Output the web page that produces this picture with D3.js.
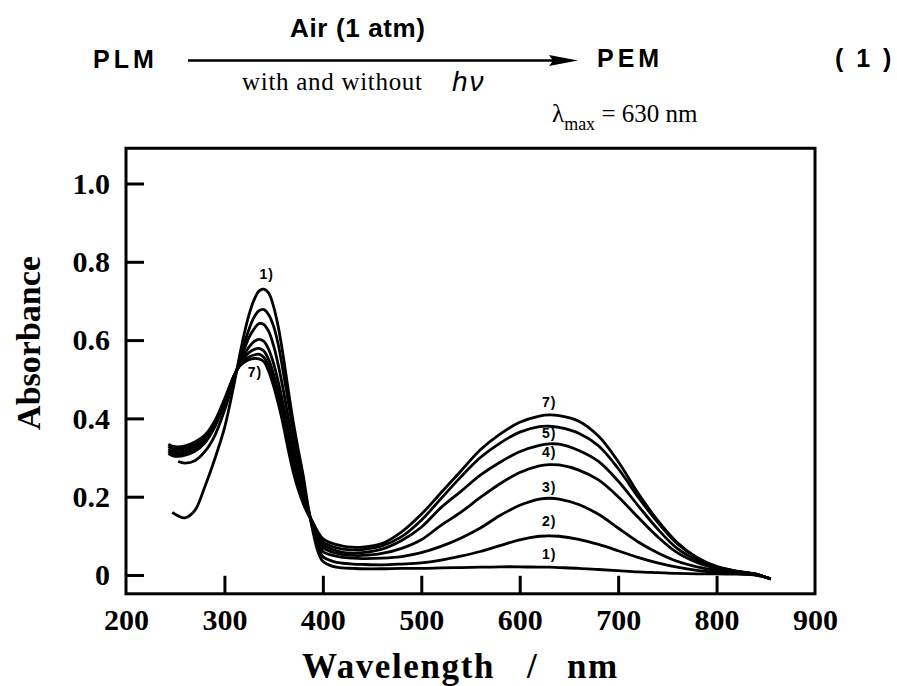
<!DOCTYPE html>
<html><head><meta charset="utf-8">
<script src="https://cdn.jsdelivr.net/npm/d3@7"></script>
<style>
html,body{margin:0;padding:0;background:#fff;}
svg{display:block;}
</style></head>
<body>
<svg id="chart" width="897" height="686"></svg>
<script>
// ---- data ----
const wavelengths = [243,247,253,260,270,280,290,300,310,315,320,325,330,335,340,345,350,355,360,365,370,375,380,385,390,395,400,410,420,430,440,460,480,500,520,540,560,580,600,620,630,640,660,680,700,720,740,760,780,800,820,840,855];
const curve1 = [null,0.160,0.151,0.146,0.165,0.225,0.295,0.375,0.490,0.555, 0.615,0.665,0.702,0.725,0.730,0.720,0.685,0.630,0.555,0.470, 0.390,0.320,0.255,0.175,0.110,0.060,0.035,0.022,0.018,0.017, 0.016,0.016,0.017,0.017,0.018,0.019,0.020,0.021,0.021,0.020, 0.020,0.019,0.017,0.014,0.011,0.008,0.006,0.004,0.003,0.003, 0.002,0.000,-0.010];
const curve2 = [null,null,0.290,0.286,0.292,0.315,0.355,0.420,0.500,0.545, 0.590,0.628,0.658,0.675,0.678,0.665,0.635,0.585,0.515,0.440, 0.365,0.298,0.235,0.172,0.117,0.075,0.047,0.035,0.030,0.028, 0.027,0.026,0.028,0.031,0.038,0.048,0.060,0.075,0.090,0.099, 0.100,0.099,0.091,0.078,0.062,0.045,0.031,0.020,0.012,0.007, 0.004,0.000,-0.010];
const curve3 = [0.310,0.305,0.303,0.306,0.316,0.337,0.377,0.437,0.507,0.540, 0.575,0.607,0.628,0.642,0.640,0.622,0.585,0.533,0.470,0.400, 0.332,0.270,0.217,0.167,0.122,0.085,0.060,0.050,0.045,0.043, 0.042,0.043,0.047,0.057,0.073,0.094,0.120,0.152,0.178,0.194, 0.196,0.194,0.180,0.155,0.120,0.085,0.057,0.035,0.021,0.012, 0.006,0.001,-0.010];
const curve4 = [0.316,0.311,0.309,0.312,0.322,0.342,0.381,0.440,0.508,0.537, 0.563,0.582,0.596,0.602,0.597,0.576,0.540,0.490,0.433,0.368, 0.305,0.250,0.203,0.163,0.127,0.092,0.070,0.058,0.052,0.050, 0.050,0.055,0.068,0.090,0.127,0.160,0.198,0.233,0.262,0.279, 0.282,0.281,0.268,0.243,0.200,0.148,0.098,0.057,0.032,0.017, 0.008,0.002,-0.010];
const curve5 = [0.322,0.317,0.315,0.318,0.328,0.347,0.385,0.443,0.509,0.535, 0.555,0.568,0.576,0.579,0.572,0.550,0.512,0.465,0.410,0.348, 0.288,0.236,0.195,0.160,0.130,0.098,0.078,0.065,0.058,0.056, 0.057,0.066,0.088,0.122,0.172,0.213,0.255,0.288,0.315,0.331, 0.335,0.334,0.318,0.290,0.240,0.178,0.118,0.068,0.038,0.019, 0.009,0.002,-0.010];
const curve6 = [0.328,0.323,0.321,0.324,0.334,0.352,0.389,0.446,0.510,0.533, 0.548,0.557,0.562,0.564,0.556,0.533,0.495,0.448,0.393,0.332, 0.274,0.226,0.188,0.158,0.133,0.104,0.085,0.072,0.066,0.064, 0.065,0.074,0.098,0.140,0.195,0.250,0.300,0.337,0.365,0.379, 0.380,0.377,0.362,0.330,0.272,0.200,0.135,0.080,0.044,0.021, 0.010,0.002,-0.010];
const curve7 = [0.334,0.329,0.327,0.330,0.340,0.357,0.393,0.449,0.511,0.532, 0.543,0.550,0.553,0.552,0.545,0.520,0.482,0.435,0.380,0.318, 0.262,0.218,0.183,0.155,0.133,0.110,0.093,0.080,0.074,0.071, 0.071,0.080,0.110,0.155,0.210,0.265,0.320,0.360,0.390,0.406, 0.409,0.407,0.393,0.355,0.290,0.210,0.140,0.083,0.045,0.022, 0.010,0.002,-0.010];
const seriesList = [curve1,curve2,curve3,curve4,curve5,curve6,curve7];

const xTicks = [200,300,400,500,600,700,800,900];
const yTicks = [0,0.2,0.4,0.6,0.8,1.0];

// curve labels: [text, wavelength, absorbance]
const uvLabels = [["1)",343,0.755],["7)",331,0.505]];
const visLabels = [["7)",630,0.428],["5)",630,0.350],["4)",630,0.302],["3)",630,0.213],["2)",630,0.125],["1)",630,0.042]];

// ---- drawing ----
const svg = d3.select("#chart");
const x = d3.scaleLinear().domain([200,900]).range([126,815]);
const y = d3.scaleLinear().domain([0,1]).range([575,183.5]);
const yTop = 1.09, yBot = -0.048;

// header (reaction scheme)
const hdr = svg.append("g");
hdr.append("text").attr("x",290).attr("y",37).attr("font-family","Liberation Sans, Arial, sans-serif")
  .attr("font-weight","bold").attr("font-size",26).attr("textLength",135).attr("lengthAdjust","spacing")
  .style("white-space","pre").text("Air (1 atm)");
hdr.append("text").attr("x",93).attr("y",68).attr("font-family","Liberation Sans, Arial, sans-serif")
  .attr("font-weight","bold").attr("font-size",25).attr("letter-spacing",4).text("PLM");
hdr.append("line").attr("x1",188).attr("x2",555).attr("y1",60.5).attr("y2",60.5).attr("stroke","#000").attr("stroke-width",2.5);
hdr.append("path").attr("d","M549,55 L578,60.5 L549,66 L553,60.5 Z").attr("fill","#000");
hdr.append("text").attr("x",597).attr("y",67).attr("font-family","Liberation Sans, Arial, sans-serif")
  .attr("font-weight","bold").attr("font-size",25).attr("letter-spacing",4).text("PEM");
hdr.append("text").attr("x",835).attr("y",67).attr("font-family","Liberation Sans, Arial, sans-serif")
  .attr("font-weight","bold").attr("font-size",25).attr("letter-spacing",3).style("white-space","pre").text("( 1 )");
hdr.append("text").attr("x",242).attr("y",90).attr("font-family","Liberation Serif, Times New Roman, serif")
  .attr("font-size",25).attr("textLength",180).attr("lengthAdjust","spacing").text("with and without");
hdr.append("text").attr("x",452).attr("y",91).attr("font-family","Liberation Sans, Arial, sans-serif")
  .attr("font-style","italic").attr("font-size",28).attr("letter-spacing",2).text("hν");
const lam = hdr.append("text").attr("x",552).attr("y",122).attr("font-family","Liberation Serif, Times New Roman, serif")
  .attr("font-size",25);
lam.append("tspan").text("λ");
lam.append("tspan").attr("font-size",18).attr("dy",8).text("max");
lam.append("tspan").attr("dy",-8).style("white-space","pre").text(" = 630 nm");

// frame
svg.append("rect").attr("x",x(200)).attr("y",y(yTop)).attr("width",x(900)-x(200)).attr("height",y(yBot)-y(yTop))
  .attr("fill","none").attr("stroke","#000").attr("stroke-width",3);

// axes
const tickFont = "Liberation Serif, Times New Roman, serif";
const yAxis = d3.axisLeft(y).tickValues(yTicks).tickSize(-18).tickPadding(16)
  .tickFormat(d => d === 0 ? "0" : d.toFixed(1));
const gy = svg.append("g").attr("transform",`translate(${x(200)},0)`).call(yAxis);
gy.select(".domain").remove();
gy.selectAll(".tick line").attr("stroke","#000").attr("stroke-width",3);
gy.selectAll(".tick text").attr("font-family",tickFont).attr("font-weight","bold").attr("font-size",30).attr("fill","#000");

const xAxis = d3.axisBottom(x).tickValues(xTicks).tickSize(-18).tickPadding(15).tickFormat(d3.format("d"));
const gx = svg.append("g").attr("transform",`translate(0,${y(yBot)})`).call(xAxis);
gx.select(".domain").remove();
gx.selectAll(".tick line").attr("stroke","#000").attr("stroke-width",3)
  .attr("display", d => (d===200||d===900) ? "none" : null);
gx.selectAll(".tick text").attr("font-family",tickFont).attr("font-weight","bold").attr("font-size",30).attr("fill","#000");

// axis titles
svg.append("text").attr("transform","translate(40,343) rotate(-90)").attr("text-anchor","middle")
  .attr("font-family",tickFont).attr("font-weight","bold").attr("font-size",34).text("Absorbance");
const xt = svg.append("text").attr("y",678).attr("font-family",tickFont).attr("font-weight","bold").attr("font-size",35);
xt.append("tspan").attr("x",302).attr("letter-spacing",1.6).text("Wavelength");
xt.append("tspan").attr("x",527).text("/");
xt.append("tspan").attr("x",567).attr("letter-spacing",1.6).text("nm");

// curves
const line = d3.line()
  .defined(d => d[1] !== null)
  .x(d => x(d[0])).y(d => y(d[1]))
  .curve(d3.curveCatmullRom.alpha(0.5));
svg.append("g").selectAll("path").data(seriesList).join("path")
  .attr("d", s => line(wavelengths.map((w,i) => [w, s[i]])))
  .attr("fill","none").attr("stroke","#000").attr("stroke-width",2.8).attr("stroke-linejoin","round");

// curve labels
svg.append("g").selectAll("text").data(uvLabels.concat(visLabels)).join("text")
  .attr("x", d => x(d[1])).attr("y", d => y(d[2])).attr("text-anchor","middle")
  .attr("font-family","Liberation Sans, Arial, sans-serif").attr("font-weight","bold").attr("font-size",14)
  .attr("letter-spacing",1).text(d => d[0]);
</script>
</body></html>
